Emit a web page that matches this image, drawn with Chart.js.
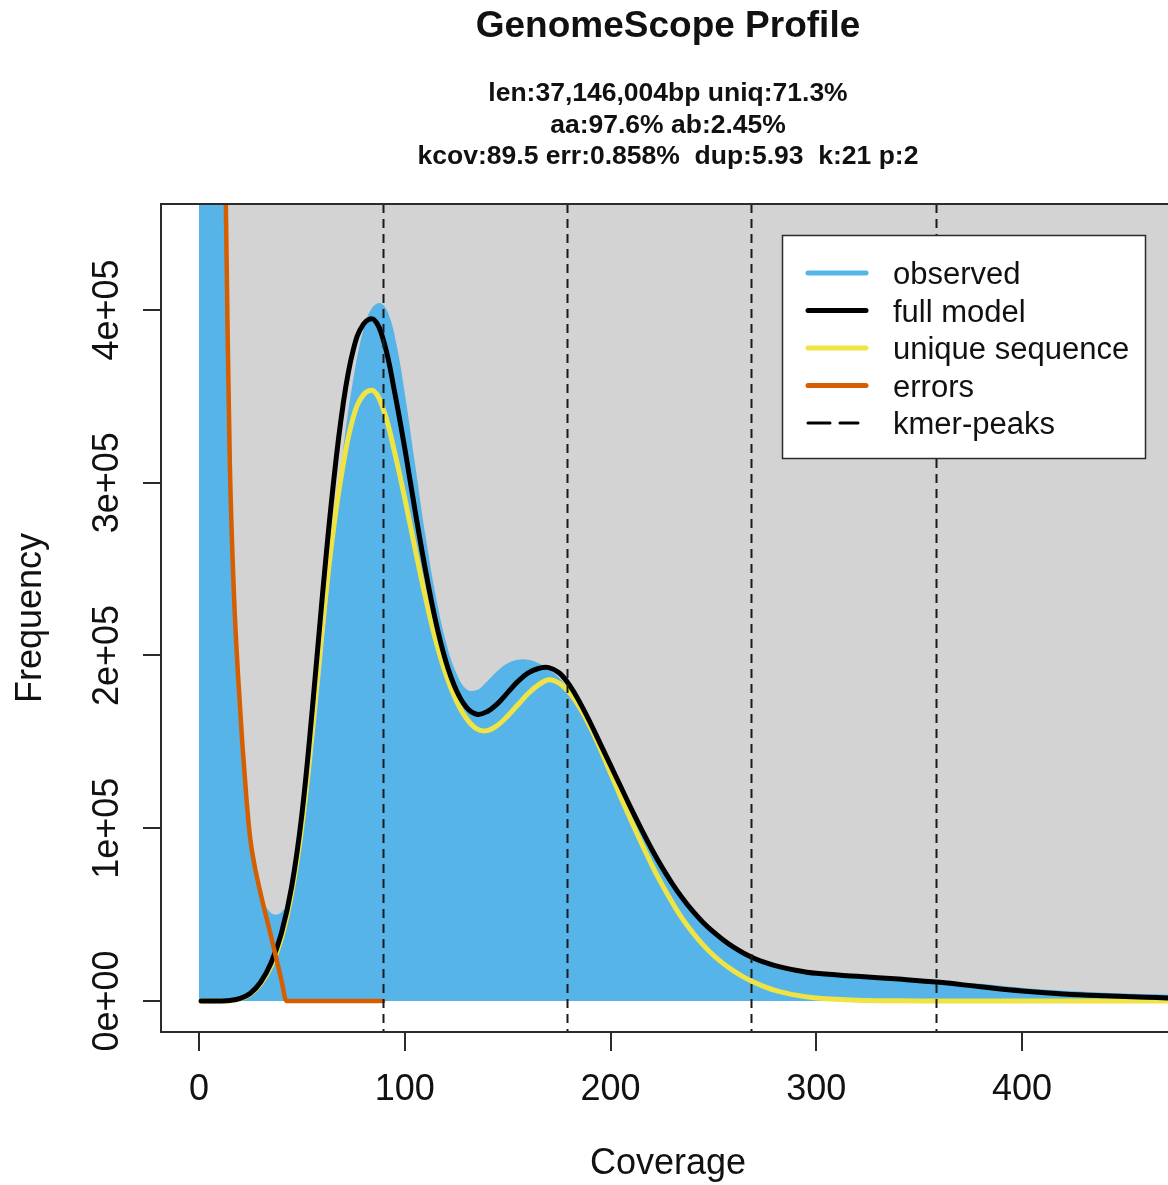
<!DOCTYPE html>
<html>
<head>
<meta charset="utf-8">
<title>GenomeScope Profile</title>
<script src="https://cdn.jsdelivr.net/npm/chart.js@4.4.1/dist/chart.umd.min.js"></script>
<style>
  html, body { margin: 0; padding: 0; background: #fff; overflow: hidden; }
  #chart { display: block; }
</style>
</head>
<body>
<canvas id="chart" width="1168" height="1185"></canvas>
<script>
/* ─────────────────────────────────────────────────────────────
   GenomeScope profile — k-mer histogram + model fit
   ───────────────────────────────────────────────────────────── */

// ── DATA ───────────────────────────────────────────────────
const kmerPeaks   = [89.5, 179, 268.5, 358];
const xTicks      = [0, 100, 200, 300, 400];
const yTicks      = [0, 100000, 200000, 300000, 400000];
const yTickLabels = ['0e+00', '1e+05', '2e+05', '3e+05', '4e+05'];

const titleText    = 'GenomeScope Profile';
const subtitleText = [
  'len:37,146,004bp uniq:71.3%',
  'aa:97.6% ab:2.45%',
  'kcov:89.5 err:0.858%  dup:5.93  k:21 p:2',
];
const legendLabels = ['observed', 'full model', 'unique sequence', 'errors', 'kmer-peaks'];

// observed histogram
const obsCov  = [0, 3, 6, 9, 12, 13, 15, 17, 19, 21, 23, 25, 27, 29, 31, 33, 35, 37, 39, 41,
                 43, 45, 47, 50, 55, 60, 65, 70, 75, 80, 84, 88, 92, 96, 100, 105, 110, 115, 120, 125,
                 130, 135, 140, 145, 150, 155, 160, 165, 170, 175, 180, 190, 200, 210, 220, 230, 240, 250, 260, 270,
                 280, 300, 320, 340, 360, 380, 400, 420, 440, 460, 471];
const obsFreq = [4000000, 2500000, 1500000, 900000, 560000, 470000, 318000, 240000, 190000, 152000,
                 119000, 94000, 78000, 66000, 58000, 53500, 51000, 50000, 50500, 52500,
                 56500, 63000, 72000, 92000, 140000, 200000, 262000, 318000, 360000, 389000,
                 401000, 404000, 398000, 380000, 352000, 311000, 270000, 235000, 208000, 190000,
                 180500, 180000, 185000, 191000, 195500, 197500, 197500, 195500, 192000, 187000,
                 180000, 158000, 134000, 109000, 86000, 66500, 51500, 40000, 31000, 24800,
                 20500, 16500, 14800, 13200, 11300, 10000, 7600, 5900, 4800, 4000, 3600];

// model curves share one coverage grid
const modelCov  = [1, 10, 15, 20, 25, 30, 35, 40, 45, 50, 55, 60, 65, 70, 75, 80, 85, 90, 95, 100,
                   105, 110, 115, 120, 125, 130, 135, 140, 145, 150, 155, 160, 165, 170, 175, 180, 185, 190, 195, 200,
                   205, 210, 215, 220, 225, 230, 235, 240, 245, 250, 255, 260, 265, 270, 275, 280, 290, 300, 320, 340,
                   360, 380, 400, 420, 440, 460, 471];
const fullModel = [0, 0, 300, 1500, 4500, 11000, 22000, 39000, 66000, 108000,
                   168000, 235000, 296000, 345000, 377000, 392000, 394500, 381000, 353000, 320000,
                   284000, 250000, 220000, 196500, 180000, 170000, 166000, 167500, 172000, 178500,
                   185000, 190000, 192500, 193000, 190000, 183000, 173000, 161500, 149000, 136500,
                   124000, 111500, 99500, 88000, 77500, 68000, 59500, 52000, 45500, 40000,
                   35200, 31000, 27500, 24600, 22300, 20500, 17800, 16000, 14300, 12700,
                   10800, 8200, 5800, 4100, 3000, 2200, 1800];
const uniqueSeq = [0, 0, 200, 1200, 4000, 10000, 20000, 36000, 62000, 101000,
                   157000, 217000, 270000, 310000, 338000, 351000, 353000, 341000, 318000, 291000,
                   262000, 234000, 209000, 189000, 174000, 163500, 157500, 156500, 159500, 165000,
                   171500, 178000, 183000, 186000, 184000, 178500, 170000, 159000, 146000, 132000,
                   118000, 104500, 91500, 79000, 67500, 57000, 47500, 39500, 32500, 26500,
                   21500, 17300, 13700, 10700, 8200, 6200, 3400, 1700, 400, 100,
                   0, 0, 0, 0, 0, 0, 0];

// error k-mers
const errCov  = [1, 5, 9, 12, 13, 14, 15, 17, 19, 21, 23, 25, 27, 30, 35, 40, 42.5, 89.5];
const errFreq = [4000000, 1800000, 900000, 560000, 465000, 380000, 310000, 235000, 188000,
                 150000, 118000, 93000, 78500, 62000, 37500, 12500, 0, 0];

// ── AXIS LIMITS (R plot region) ────────────────────────────
const X_MIN = -18.47, X_MAX = 470.96;
const Y_MIN = -17945, Y_MAX = 461360;

const FONT = '"Liberation Sans", Arial, Helvetica, sans-serif';
const COL = { obs: '#56B4E9', full: '#000000', uniq: '#F0E442', err: '#D55E00', bg: '#D3D3D3', axis: '#2b2b2b' };

const pts = (xs, ys) => xs.map((x, i) => ({ x, y: ys[i] }));

// ── PLUGINS ────────────────────────────────────────────────
const bgPanel = {
  id: 'bgPanel',
  beforeDatasetsDraw(chart) {
    const { ctx, chartArea: a, scales: { x, y } } = chart;
    const x0 = x.getPixelForValue(0);
    const y0 = y.getPixelForValue(0);
    ctx.save();
    ctx.fillStyle = COL.bg;
    ctx.fillRect(x0, a.top, a.right - x0, y0 - a.top);
    ctx.restore();
  }
};

const decorations = {
  id: 'decorations',
  afterDatasetsDraw(chart) {
    const { ctx, chartArea: a, scales: { x, y } } = chart;
    ctx.save();

    // kmer peaks
    ctx.strokeStyle = '#1a1a1a';
    ctx.lineWidth = 2;
    ctx.setLineDash([9, 6]);
    kmerPeaks.forEach(p => {
      const px = Math.round(x.getPixelForValue(p)) + 0.5;
      ctx.beginPath();
      ctx.moveTo(px, a.top);
      ctx.lineTo(px, a.bottom);
      ctx.stroke();
    });
    ctx.setLineDash([]);

    // box
    ctx.strokeStyle = COL.axis;
    ctx.lineWidth = 2;
    ctx.strokeRect(a.left, a.top, a.right - a.left + 20, a.bottom - a.top);

    // tick labels
    ctx.fillStyle = '#111';
    ctx.font = '36px ' + FONT;
    ctx.textAlign = 'center';
    ctx.textBaseline = 'alphabetic';
    xTicks.forEach(v => ctx.fillText(String(v), x.getPixelForValue(v), 1100));
    yTicks.forEach((v, i) => {
      ctx.save();
      ctx.translate(118, y.getPixelForValue(v));
      ctx.rotate(-Math.PI / 2);
      ctx.fillText(yTickLabels[i], 0, 0);
      ctx.restore();
    });

    // axis titles
    const cx = 668;
    ctx.fillText('Coverage', cx, 1174);
    ctx.save();
    ctx.translate(41, (a.top + a.bottom) / 2);
    ctx.rotate(-Math.PI / 2);
    ctx.fillText('Frequency', 0, 0);
    ctx.restore();

    // title + subtitle
    ctx.font = 'bold 37px ' + FONT;
    ctx.fillText(titleText, cx, 37);
    ctx.font = 'bold 26.5px ' + FONT;
    subtitleText.forEach((t, i) => ctx.fillText(t, cx, 101 + i * 31.5));

    // legend
    const lx = 782, ly = 235, lw = 363, lh = 223;
    ctx.fillStyle = '#fff';
    ctx.fillRect(lx, ly, lw, lh);
    ctx.strokeStyle = COL.axis;
    ctx.lineWidth = 1.5;
    ctx.strokeRect(lx + 0.5, ly + 0.5, lw, lh);
    const swatch = [COL.obs, COL.full, COL.uniq, COL.err, '#000'];
    ctx.font = '31px ' + FONT;
    ctx.textAlign = 'left';
    legendLabels.forEach((lab, i) => {
      const ry = 273 + i * 37.5;
      ctx.strokeStyle = swatch[i];
      ctx.lineWidth = i === 4 ? 3 : 5;
      ctx.lineCap = 'round';
      ctx.setLineDash(i === 4 ? [22, 10] : []);
      ctx.beginPath();
      ctx.moveTo(808, ry);
      ctx.lineTo(i === 4 ? 858 : 866, ry);
      ctx.stroke();
      ctx.setLineDash([]);
      ctx.fillStyle = '#111';
      ctx.fillText(lab, 893, ry + 11);
    });

    ctx.restore();
  }
};

// ── CHART ──────────────────────────────────────────────────
const smooth = { pointRadius: 0, fill: false, tension: 0.4, borderCapStyle: 'round', borderJoinStyle: 'round' };

new Chart(document.getElementById('chart'), {
  type: 'line',
  data: {
    datasets: [
      { ...smooth, label: 'observed', data: pts(obsCov, obsFreq), fill: 'origin',
        backgroundColor: COL.obs, borderColor: 'rgba(0,0,0,0)', borderWidth: 0, order: 4 },
      { ...smooth, label: 'unique sequence', data: pts(modelCov, uniqueSeq), borderColor: COL.uniq, borderWidth: 5, order: 3 },
      { ...smooth, label: 'full model', data: pts(modelCov, fullModel), borderColor: COL.full, borderWidth: 5, order: 2 },
      { ...smooth, label: 'errors', data: pts(errCov, errFreq), cubicInterpolationMode: 'monotone',
        borderColor: COL.err, borderWidth: 4.5, order: 1 },
    ]
  },
  options: {
    responsive: false,
    animation: false,
    layout: { padding: { top: 204, left: 0, right: 0, bottom: 0 } },
    plugins: { legend: { display: false }, tooltip: { enabled: false }, title: { display: false } },
    scales: {
      x: {
        type: 'linear', min: X_MIN, max: X_MAX,
        afterBuildTicks: s => { s.ticks = xTicks.map(v => ({ value: v })); },
        afterFit: s => { s.height = 153; },
        ticks: { display: false },
        border: { display: false },
        grid: { drawOnChartArea: false, drawTicks: true, tickLength: 19, color: COL.axis, lineWidth: 2 },
      },
      y: {
        type: 'linear', min: Y_MIN, max: Y_MAX,
        afterBuildTicks: s => { s.ticks = yTicks.map(v => ({ value: v })); },
        afterFit: s => { s.width = 161; },
        ticks: { display: false },
        border: { display: false },
        grid: { drawOnChartArea: false, drawTicks: true, tickLength: 18, color: COL.axis, lineWidth: 2 },
      }
    }
  },
  plugins: [bgPanel, decorations]
});
</script>
</body>
</html>
